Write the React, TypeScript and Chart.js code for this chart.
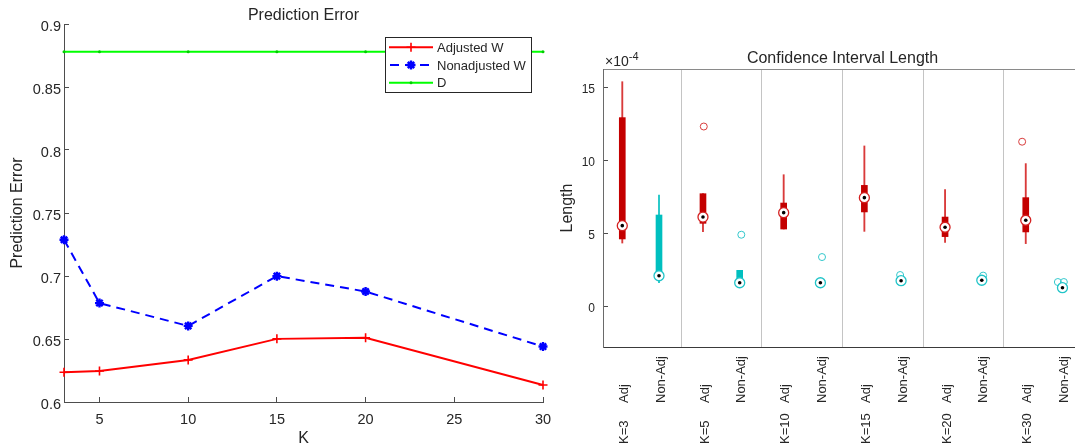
import React, { useEffect, useRef } from 'react';
import { Chart, registerables } from 'chart.js';
import { drawPoint } from 'chart.js/helpers';

Chart.register(...registerables);

const FONT_FAMILY = '"Liberation Sans", Arial, Helvetica, sans-serif';
const TEXT_COLOR = '#262626';
const AXIS_COLOR = '#4d4d4d';

// ---------- Left panel: Prediction Error ----------
const kValues = [3, 5, 10, 15, 20, 30];
const adjustedW = [0.6236, 0.6246, 0.6334, 0.6501, 0.651, 0.6135];
const nonadjustedW = [0.7288, 0.6785, 0.6604, 0.6999, 0.6877, 0.644];
const dValues = [0.878, 0.878, 0.878, 0.878, 0.878, 0.878];
const predYTicks = [0.6, 0.65, 0.7, 0.75, 0.8, 0.85, 0.9];
const predXTicks = [5, 10, 15, 20, 25, 30];

// ---------- Right panel: Confidence Interval Length (units of 1e-4) ----------
const groupLabels = ['K=3', 'K=5', 'K=10', 'K=15', 'K=20', 'K=30'];
const methodLabels = ['Adj', 'Non-Adj'];
const adjWhiskerLow = [4.38, 5.16, 5.34, 5.18, 4.43, 4.34];
const adjQ1 = [4.66, 5.73, 5.34, 6.51, 4.82, 5.14];
const adjMedian = [5.57, 6.16, 6.46, 7.49, 5.46, 5.94];
const adjQ3 = [12.97, 7.76, 7.12, 8.33, 6.16, 7.49];
const adjWhiskerHigh = [15.43, 7.76, 9.06, 11.03, 8.04, 9.82];
const adjOutliers: number[][] = [[], [12.36], [], [], [], [11.32]];
const adjOutlierJitter: number[][] = [[], [0.01], [], [], [], [-0.045]];
const nonWhiskerLow = [1.66, 1.6, 1.5, 1.6, 1.65, 1.2];
const nonQ1 = [2.0, 1.7, 1.55, 1.7, 1.72, 1.25];
const nonMedian = [2.14, 1.66, 1.66, 1.8, 1.83, 1.32];
const nonQ3 = [6.3, 2.51, 1.85, 1.95, 1.95, 1.45];
const nonWhiskerHigh = [7.67, 2.51, 1.9, 2.0, 2.0, 1.5];
const nonOutliers: number[][] = [[], [4.95], [3.42], [2.19], [2.15], [1.71, 1.71]];
const nonOutlierJitter: number[][] = [[], [0.02], [0.02], [-0.012], [0.017], [-0.057, 0.017]];
const ciYTicks = [0, 5, 10, 15];
const ciExponent = '-4';

// layout (not data)
const METHOD_OFFSETS = [0.27, 0.725];
const RED_BOX = '#c40000';
const RED_LINE = '#d93a3a';
const CYAN_BOX = '#00bfbf';
const CYAN_LINE = '#1cc6c6';

const pos = (g: number, m: number) => g + METHOD_OFFSETS[m];

// remove label overhang padding and optionally nudge tick labels
const tidyScale = (s: any, dx: number, dy: number) => {
  s.paddingLeft = 0;
  s.paddingRight = 0;
  s.paddingTop = 0;
  s.paddingBottom = 0;
  if ((dx || dy) && !s.__shifted) {
    const orig = s.drawLabels;
    s.drawLabels = function (area: any) {
      this.ctx.save();
      this.ctx.translate(dx, dy);
      orig.call(this, area);
      this.ctx.restore();
    };
    s.__shifted = true;
  }
};

const legendPlugin = {
  id: 'boxLegend',
  afterDraw(chart: any) {
    const { ctx, chartArea } = chart;
    const w = 147;
    const h = 56;
    const x0 = chartArea.right - 11 - w;
    const y0 = chartArea.top + 13;
    ctx.save();
    ctx.fillStyle = '#ffffff';
    ctx.fillRect(x0, y0, w, h);
    ctx.strokeStyle = TEXT_COLOR;
    ctx.lineWidth = 1;
    ctx.strokeRect(Math.round(x0) + 0.5, Math.round(y0) + 0.5, w - 1, h - 1);
    chart.data.datasets.forEach((ds: any, i: number) => {
      const y = y0 + 10.3 + i * 17.7;
      ctx.strokeStyle = ds.borderColor;
      ctx.lineWidth = ds.borderWidth;
      ctx.setLineDash(ds.borderDash || []);
      ctx.lineDashOffset = ds.borderDash ? -1 : 0;
      ctx.beginPath();
      ctx.moveTo(x0 + 4, y);
      ctx.lineTo(x0 + 48, y);
      ctx.stroke();
      ctx.setLineDash([]);
      ctx.fillStyle = ds.pointBackgroundColor;
      ctx.strokeStyle = ds.pointBorderColor;
      ctx.lineWidth = ds.pointBorderWidth;
      drawPoint(ctx, { pointStyle: ds.pointStyle, radius: ds.pointRadius, borderWidth: ds.pointBorderWidth, rotation: 0 }, x0 + 26, y);
      ctx.fillStyle = TEXT_COLOR;
      ctx.font = `13px ${FONT_FAMILY}`;
      ctx.textBaseline = 'middle';
      ctx.textAlign = 'left';
      ctx.fillText(ds.label, x0 + 52, y + 1);
    });
    ctx.restore();
  },
};

const ciLabelPlugin = {
  id: 'ciLabels',
  afterDraw(chart: any) {
    const { ctx, chartArea } = chart;
    const xs = chart.scales.x;
    ctx.save();
    ctx.fillStyle = TEXT_COLOR;
    ctx.font = `13px ${FONT_FAMILY}`;
    ctx.textBaseline = 'middle';
    ctx.textAlign = 'left';
    const rot = (text: string, x: number, y: number) => {
      ctx.save();
      ctx.translate(x, y);
      ctx.rotate(-Math.PI / 2);
      ctx.fillText(text, 0, 0);
      ctx.restore();
    };
    groupLabels.forEach((g, gi) => {
      methodLabels.forEach((m, mi) => {
        const px = xs.getPixelForValue(pos(gi, mi));
        rot(m, px + 2, chartArea.bottom + 56);
        if (mi === 0) rot(g, px + 2, chartArea.bottom + 97);
      });
    });
    // exponent label
    ctx.textBaseline = 'alphabetic';
    ctx.font = `14px ${FONT_FAMILY}`;
    const bx = chartArea.left + 2;
    const by = chartArea.top - 3;
    ctx.fillText('\u00d710', bx, by);
    const w = ctx.measureText('\u00d710').width;
    ctx.font = `11px ${FONT_FAMILY}`;
    ctx.fillText(ciExponent, bx + w, by - 6);
    ctx.restore();
  },
};

export default function App() {
  const leftRef = useRef<HTMLCanvasElement | null>(null);
  const rightRef = useRef<HTMLCanvasElement | null>(null);

  useEffect(() => {
    const toXY = (vals: number[]) => kValues.map((k, i) => ({ x: k, y: vals[i] }));

    const left = new Chart(leftRef.current as HTMLCanvasElement, {
      type: 'line',
      data: {
        datasets: [
          {
            label: 'Adjusted W',
            data: toXY(adjustedW),
            borderColor: '#ff0000',
            borderWidth: 2,
            pointStyle: 'cross',
            pointRadius: 4.5,
            pointBorderWidth: 1.6,
            pointBorderColor: '#ff0000',
            pointBackgroundColor: '#ff0000',
            clip: false,
          },
          {
            label: 'Nonadjusted W',
            data: toXY(nonadjustedW),
            borderColor: '#0000ff',
            borderWidth: 2,
            borderDash: [9, 6],
            pointStyle: 'star',
            pointRadius: 4.5,
            pointBorderWidth: 2.4,
            pointBorderColor: '#0000ff',
            pointBackgroundColor: '#0000ff',
            clip: false,
          },
          {
            label: 'D',
            data: toXY(dValues),
            borderColor: '#00ff00',
            borderWidth: 2,
            pointStyle: 'circle',
            pointRadius: 1.5,
            pointBorderWidth: 0,
            pointBorderColor: '#00cc00',
            pointBackgroundColor: '#00cc00',
            clip: false,
          },
        ] as any,
      },
      options: {
        animation: false,
        responsive: false,
        devicePixelRatio: 1,
        events: [],
        layout: { padding: { left: 0, right: 17, top: 0, bottom: 0 } },
        elements: { line: { tension: 0 } },
        plugins: {
          legend: { display: false },
          tooltip: { enabled: false },
          title: {
            display: true,
            text: 'Prediction Error',
            fullSize: false,
            color: TEXT_COLOR,
            font: { family: FONT_FAMILY, size: 16, weight: 'normal', lineHeight: 1 },
            padding: { top: 8, bottom: 0 },
          },
        },
        scales: {
          x: {
            type: 'linear',
            min: kValues[0],
            max: kValues[kValues.length - 1],
            bounds: 'data',
            grid: { drawOnChartArea: false, drawTicks: true, tickLength: -5, color: AXIS_COLOR },
            border: { display: true, color: AXIS_COLOR, width: 1 },
            ticks: {
              color: TEXT_COLOR,
              font: { family: FONT_FAMILY, size: 14.5 },
              padding: 14,
              maxRotation: 0,
              callback: (v: any) => String(v),
            },
            afterBuildTicks: (s: any) => {
              s.ticks = predXTicks.map((v) => ({ value: v }));
            },
            afterFit: (s: any) => {
              s.height = 43;
              tidyScale(s, 0, 0);
            },
            title: {
              display: true,
              text: 'K',
              color: TEXT_COLOR,
              font: { family: FONT_FAMILY, size: 16, lineHeight: 0.75 },
              padding: { top: 0, bottom: 0 },
            },
          },
          y: {
            type: 'linear',
            min: predYTicks[0],
            max: predYTicks[predYTicks.length - 1],
            bounds: 'data',
            grid: { drawOnChartArea: false, drawTicks: true, tickLength: -5, color: AXIS_COLOR },
            border: { display: true, color: AXIS_COLOR, width: 1 },
            ticks: {
              color: TEXT_COLOR,
              font: { family: FONT_FAMILY, size: 14.5 },
              padding: 8,
              callback: (v: any) => String(Number(Number(v).toFixed(2))),
            },
            afterBuildTicks: (s: any) => {
              s.ticks = predYTicks.map((v) => ({ value: v }));
            },
            afterFit: (s: any) => {
              s.width = 64;
              tidyScale(s, 0, 2.5);
            },
            title: {
              display: true,
              text: 'Prediction Error',
              color: TEXT_COLOR,
              font: { family: FONT_FAMILY, size: 16, lineHeight: 1 },
              padding: { top: 10, bottom: 0 },
            },
          },
        },
      } as any,
      plugins: [legendPlugin],
    });

    // ----- right chart -----
    const medianPoints = [
      ...adjMedian.map((v, g) => ({ x: pos(g, 0), y: v })),
      ...nonMedian.map((v, g) => ({ x: pos(g, 1), y: v })),
    ];
    const outlierPoints = (vals: number[][], jit: number[][], m: number) =>
      vals.flatMap((arr, g) => arr.map((v, j) => ({ x: pos(g, m) + jit[g][j], y: v })));

    const right = new Chart(rightRef.current as HTMLCanvasElement, {
      type: 'bar',
      data: {
        datasets: [
          {
            type: 'scatter',
            label: 'median dot',
            data: medianPoints,
            pointRadius: 1.8,
            pointBorderWidth: 0,
            pointBackgroundColor: '#000000',
            pointBorderColor: '#000000',
            clip: false,
          },
          {
            type: 'scatter',
            label: 'Adj median',
            data: adjMedian.map((v, g) => ({ x: pos(g, 0), y: v })),
            pointRadius: 5,
            pointBorderWidth: 1.3,
            pointBackgroundColor: '#ffffff',
            pointBorderColor: '#d42020',
            clip: false,
          },
          {
            type: 'scatter',
            label: 'Non-Adj median',
            data: nonMedian.map((v, g) => ({ x: pos(g, 1), y: v })),
            pointRadius: 5,
            pointBorderWidth: 1.3,
            pointBackgroundColor: '#ffffff',
            pointBorderColor: '#20c4c8',
            clip: false,
          },
          {
            type: 'scatter',
            label: 'Adj outliers',
            data: outlierPoints(adjOutliers, adjOutlierJitter, 0),
            pointRadius: 3.5,
            pointBorderWidth: 1,
            pointBackgroundColor: 'rgba(0,0,0,0)',
            pointBorderColor: '#d83c3c',
            clip: false,
          },
          {
            type: 'scatter',
            label: 'Non-Adj outliers',
            data: outlierPoints(nonOutliers, nonOutlierJitter, 1),
            pointRadius: 3.5,
            pointBorderWidth: 1,
            pointBackgroundColor: 'rgba(0,0,0,0)',
            pointBorderColor: '#33c8cc',
            clip: false,
          },
          {
            type: 'bar',
            label: 'Adj box',
            data: adjQ1.map((q1, g) => ({ x: pos(g, 0), y: [q1, adjQ3[g]] })),
            backgroundColor: RED_BOX,
            borderWidth: 0,
            barThickness: 6,
            stack: 'box',
          },
          {
            type: 'bar',
            label: 'Non-Adj box',
            data: nonQ1.map((q1, g) => ({ x: pos(g, 1), y: [q1, nonQ3[g]] })),
            backgroundColor: CYAN_BOX,
            borderWidth: 0,
            barThickness: 6,
            stack: 'box',
          },
          {
            type: 'bar',
            label: 'Adj whisker',
            data: adjWhiskerLow.map((lo, g) => ({ x: pos(g, 0), y: [lo, adjWhiskerHigh[g]] })),
            backgroundColor: RED_LINE,
            borderWidth: 0,
            barThickness: 1.2,
            stack: 'box',
          },
          {
            type: 'bar',
            label: 'Non-Adj whisker',
            data: nonWhiskerLow.map((lo, g) => ({ x: pos(g, 1), y: [lo, nonWhiskerHigh[g]] })),
            backgroundColor: CYAN_LINE,
            borderWidth: 0,
            barThickness: 1.2,
            stack: 'box',
          },
        ] as any,
      },
      options: {
        animation: false,
        responsive: false,
        devicePixelRatio: 1,
        events: [],
        layout: { padding: { left: 0, right: 8, top: 0, bottom: 0 } },
        plugins: {
          legend: { display: false },
          tooltip: { enabled: false },
          title: {
            display: true,
            text: 'Confidence Interval Length',
            fullSize: false,
            color: TEXT_COLOR,
            font: { family: FONT_FAMILY, size: 16, weight: 'normal', lineHeight: 1 },
            padding: { top: 51, bottom: 2 },
          },
        },
        scales: {
          x: {
            type: 'linear',
            position: 'bottom',
            min: 0.031,
            max: 5.967,
            bounds: 'data',
            offset: false,
            grid: { offset: false, drawOnChartArea: true, drawTicks: false, color: '#c4c4c4', lineWidth: 1 },
            border: { display: true, color: '#3a3a3a', width: 1 },
            ticks: { display: false },
            afterBuildTicks: (s: any) => {
              s.ticks = groupLabels.slice(1).map((_, i) => ({ value: i + 1 }));
            },
            afterFit: (s: any) => {
              s.height = 98;
              tidyScale(s, 0, 0);
            },
          },
          xTop: {
            type: 'linear',
            axis: 'x',
            position: 'top',
            min: 0,
            max: 1,
            offset: false,
            grid: { offset: false, drawOnChartArea: false, drawTicks: false, color: '#8a8a8a' },
            border: { display: true, color: '#8a8a8a', width: 1 },
            ticks: { display: false },
            afterFit: (s: any) => {
              s.height = 0;
              tidyScale(s, 0, 0);
            },
          },
          y: {
            type: 'linear',
            min: -2.74,
            max: 16.3,
            bounds: 'data',
            stacked: false,
            grid: { drawOnChartArea: false, drawTicks: true, tickLength: -5, color: AXIS_COLOR },
            border: { display: true, color: '#6a6a6a', width: 1 },
            ticks: {
              color: TEXT_COLOR,
              font: { family: FONT_FAMILY, size: 12 },
              padding: 13,
              callback: (v: any) => String(v),
            },
            afterBuildTicks: (s: any) => {
              s.ticks = ciYTicks.map((v) => ({ value: v }));
            },
            afterFit: (s: any) => {
              s.width = 43;
              tidyScale(s, 0, 1.5);
            },
            title: {
              display: true,
              text: 'Length',
              color: TEXT_COLOR,
              font: { family: FONT_FAMILY, size: 16, lineHeight: 1 },
              padding: { top: 0, bottom: 0 },
            },
          },
        },
      } as any,
      plugins: [ciLabelPlugin],
    });

    return () => {
      left.destroy();
      right.destroy();
    };
  }, []);

  return (
    <div
      style={{
        position: 'absolute',
        left: 0,
        top: 0,
        width: 1075,
        height: 445,
        overflow: 'hidden',
        background: '#ffffff',
      }}
    >
      <canvas
        ref={leftRef}
        width={560}
        height={445}
        style={{ position: 'absolute', left: 0, top: 0, width: 560, height: 445 }}
      />
      <canvas
        ref={rightRef}
        width={530}
        height={445}
        style={{ position: 'absolute', left: 560, top: 0, width: 530, height: 445 }}
      />
    </div>
  );
}
